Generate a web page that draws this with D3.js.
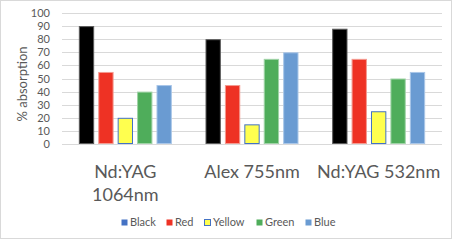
<!DOCTYPE html>
<html>
<head>
<meta charset="utf-8">
<script src="https://cdn.jsdelivr.net/npm/d3@7"></script>
<style>
  body { margin: 0; background: #fff; }
  text { font-family: Lato, "Liberation Sans", sans-serif; fill: #595959; }
</style>
</head>
<body>
<svg width="453" height="240"></svg>
<script>
var lasers = ["Nd:YAG 1064nm", "Alex 755nm", "Nd:YAG 532nm"];
var laserLabels = [["Nd:YAG", "1064nm"], ["Alex 755nm"], ["Nd:YAG 532nm"]];
var inks = ["Black", "Red", "Yellow", "Green", "Blue"];
var black  = [90, 80, 88];
var red    = [55, 45, 65];
var yellow = [20, 15, 25];
var green  = [40, 65, 50];
var blue   = [45, 70, 55];
var yTicks = [0, 10, 20, 30, 40, 50, 60, 70, 80, 90, 100];

var series = [black, red, yellow, green, blue];
var fills   = ["#000000", "#ee3224", "#ffff4f", "#4fad5b", "#6a9bd2"];
var strokes = ["#5a5a5a", "#f49a90", "#4472c4", "#9fd3a6", "#a9c6e8"];
var legendFills = ["#4472c4", "#ee3224", "#ffff4f", "#4fad5b", "#6a9bd2"];

var width = 453;
var height = 240;
var margin = {left: 62, right: 11, top: 13, bottom: 96};

var svg = d3.select('svg');

// chart border
svg.append('rect')
  .attr('x', 0.5).attr('y', 0.5)
  .attr('width', width - 2).attr('height', height - 2)
  .attr('fill', '#fff')
  .attr('stroke', '#d9d9d9');

var x0 = d3.scaleBand().domain(lasers).range([margin.left, width - margin.right]);
var groupW = 93;
var x1 = d3.scaleBand().domain(inks)
  .range([(x0.bandwidth() - groupW) / 2, (x0.bandwidth() + groupW) / 2])
  .paddingInner(0.21);
var y = d3.scaleLinear().domain([0, 100]).range([height - margin.bottom, margin.top]);

// gridlines
svg.append('g')
  .selectAll('line')
  .data(yTicks)
  .enter()
  .append('line')
  .attr('x1', margin.left)
  .attr('x2', width - margin.right)
  .attr('y1', function (d) { return Math.round(y(d)) + 0.5; })
  .attr('y2', function (d) { return Math.round(y(d)) + 0.5; })
  .attr('stroke', '#d9d9d9');

// y axis labels
var axisLeft = d3.axisLeft(y).tickValues(yTicks).tickSize(0).tickPadding(0);
var gy = svg.append('g')
  .attr('transform', 'translate(50,0)')
  .call(axisLeft);
gy.select('.domain').remove();
gy.selectAll('text')
  .style('font-family', 'Lato, "Liberation Sans", sans-serif')
  .style('font-size', '11px')
  .attr('fill', '#595959');

svg.append('text')
  .attr('transform', 'rotate(-90)')
  .attr('x', -84)
  .attr('y', 27)
  .attr('text-anchor', 'middle')
  .style('font-size', '13px')
  .text('% absorption');

// bars
var groups = svg.append('g')
  .selectAll('g')
  .data(lasers)
  .enter()
  .append('g')
  .attr('transform', function (d) { return 'translate(' + x0(d) + ',0)'; });

groups.selectAll('rect')
  .data(function (d, i) {
    return inks.map(function (k, j) { return {ink: k, j: j, value: series[j][i]}; });
  })
  .enter()
  .append('rect')
  .attr('x', function (d) { return x1(d.ink) + 0.5; })
  .attr('y', function (d) { return y(d.value) + 0.5; })
  .attr('width', function (d) { return x1.bandwidth() - 1; })
  .attr('height', function (d) { return y(0) - y(d.value) - 1; })
  .attr('fill', function (d) { return fills[d.j]; })
  .attr('stroke', function (d) { return strokes[d.j]; });

// category labels
var catLabels = svg.append('g')
  .selectAll('text')
  .data(lasers)
  .enter()
  .append('text')
  .attr('x', function (d) { return x0(d) + x0.bandwidth() / 2; })
  .attr('y', 178)
  .attr('text-anchor', 'middle')
  .style('font-size', '18px');

catLabels.each(function (d, i) {
  var t = d3.select(this);
  laserLabels[i].forEach(function (line, k) {
    t.append('tspan')
      .attr('x', x0(d) + x0.bandwidth() / 2)
      .attr('dy', k === 0 ? 0 : 23)
      .text(line);
  });
});

// legend
var legendX = [121, 166, 204, 256, 305];
var legend = svg.append('g')
  .selectAll('g')
  .data(inks)
  .enter()
  .append('g')
  .attr('transform', function (d, i) { return 'translate(' + legendX[i] + ',219)'; });

legend.append('rect')
  .attr('x', 0.5).attr('y', 0.5)
  .attr('width', 6).attr('height', 6)
  .attr('fill', function (d, i) { return legendFills[i]; })
  .attr('stroke', function (d, i) { return i === 2 ? '#4472c4' : 'none'; });

legend.append('text')
  .attr('x', 9)
  .attr('y', 7)
  .style('font-size', '11px')
  .text(function (d) { return d; });
</script>
</body>
</html>
